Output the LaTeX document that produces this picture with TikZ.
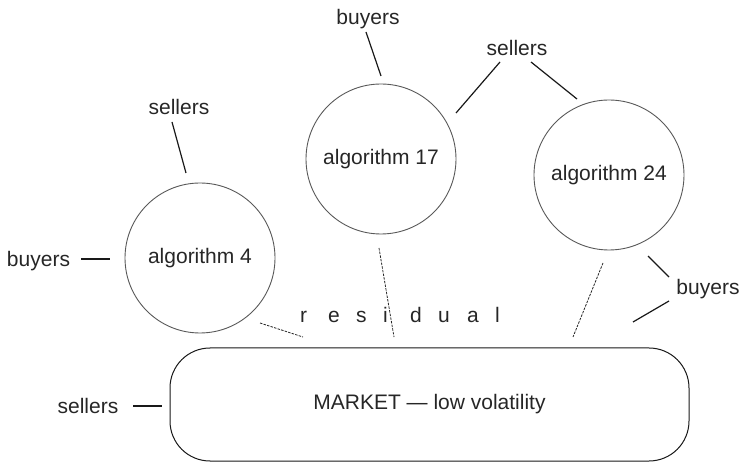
\documentclass[tikz,border=0pt]{standalone}
\usepackage{fontspec}
\setmainfont{Liberation Sans}
\begin{document}
\begin{tikzpicture}[x=1pt,y=-1pt,
  lbl/.style={inner sep=0pt,anchor=base,font=\fontsize{21}{25}\selectfont,text=black!85},
  algo/.style={circle,draw=black!65,line width=0.9pt,minimum size=150pt,inner sep=0pt,font=\fontsize{21}{25}\selectfont,text=black!85},
  conn/.style={line width=1.2pt,black!90},
  resid/.style={line width=0.8pt,black!85,dash pattern=on 2.5pt off 1.2pt}]
\useasboundingbox (0,0) rectangle (742,462);
% circles
\node[algo] (alg4) at (200,258) {algorithm 4};
\node[algo] (alg17) at (381,159) {algorithm 17};
\node[algo] (alg24) at (609,175) {algorithm 24};
% market
\node[draw=black!90,line width=1pt,rounded corners=40pt,minimum width=519pt,minimum height=113pt,inner sep=0pt,font=\fontsize{21}{25}\selectfont,text=black!85] (mkt) at (429.5,404.5) {MARKET — low volatility};
% labels
\node[lbl] (b17) at (368,24.5) {buyers};
\node[lbl] (sTop) at (517,55.5) {sellers};
\node[lbl] (s4) at (179,114.5) {sellers};
\node[lbl] (b4) at (38.5,266.5) {buyers};
\node[lbl] (b24) at (708,294.5) {buyers};
\node[lbl] (sM) at (88,413.5) {sellers};
\node[lbl,anchor=base west] (res) at (300,323) {\makebox[28pt][l]{r}\makebox[28pt][l]{e}\makebox[27pt][l]{s}\makebox[27pt][l]{i}\makebox[28pt][l]{d}\makebox[29pt][l]{u}\makebox[28pt][l]{a}l};
% connector ends
\coordinate (s4a) at (172,122);  \coordinate (s4b) at (186,173);
\coordinate (b17a) at (366,32);  \coordinate (b17b) at (381,76);
\coordinate (sTa) at (500,62);   \coordinate (sTb) at (456,113);
\coordinate (sTc) at (531,62);   \coordinate (sTd) at (577,99);
\coordinate (b4a) at (81,259);   \coordinate (b4b) at (110,259);
\coordinate (b24a) at (648,256); \coordinate (b24b) at (669,277);
\coordinate (b24c) at (669,301); \coordinate (b24d) at (633,322);
\coordinate (sMa) at (133,406);  \coordinate (sMb) at (162,406);
\coordinate (r4a) at (260,323);  \coordinate (r4b) at (303,337);
\coordinate (r17a) at (379,248); \coordinate (r17b) at (394,337);
\coordinate (r24a) at (603,263); \coordinate (r24b) at (573,337);
% connectors
\draw[conn] (s4a) -- (s4b);
\draw[conn] (b17a) -- (b17b);
\draw[conn] (sTa) -- (sTb);
\draw[conn] (sTc) -- (sTd);
\draw[conn] (b4a) -- (b4b);
\draw[conn] (b24a) -- (b24b);
\draw[conn] (b24c) -- (b24d);
\draw[conn] (sMa) -- (sMb);
\draw[resid] (r4a) -- (r4b);
\draw[resid] (r17a) -- (r17b);
\draw[resid] (r24a) -- (r24b);
\end{tikzpicture}
\end{document}
